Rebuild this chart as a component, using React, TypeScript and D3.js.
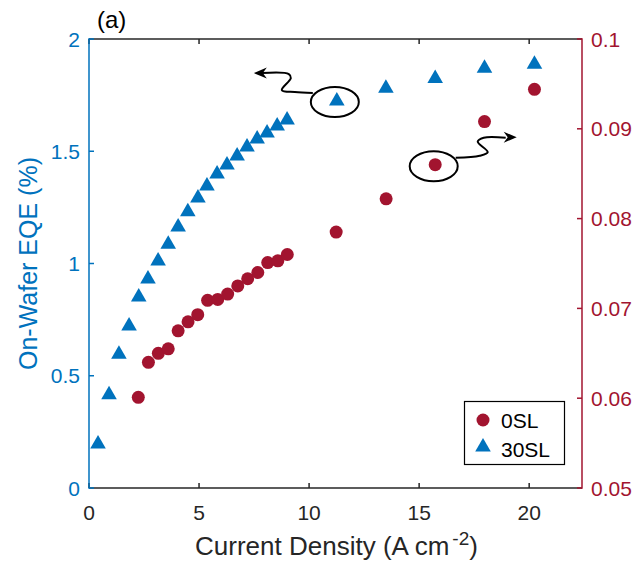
import React, { useEffect, useRef } from 'react';
import * as d3 from 'd3';

// 30SL: on-wafer EQE (%) on left axis
const sl30Current = [0.41, 0.91, 1.36, 1.82, 2.26, 2.68, 3.14, 3.6, 4.05, 4.49, 4.95, 5.36, 5.82, 6.27, 6.73, 7.18, 7.64, 8.09, 8.55, 9.0, 11.26, 13.49, 15.73, 17.97, 20.24];
const sl30EQE = [0.20, 0.42, 0.60, 0.726, 0.855, 0.935, 1.016, 1.09, 1.167, 1.235, 1.296, 1.35, 1.403, 1.443, 1.483, 1.523, 1.559, 1.586, 1.617, 1.644, 1.728, 1.785, 1.829, 1.874, 1.892];

// 0SL: on-wafer EQE (%) on right axis
const sl0Current = [2.24, 2.7, 3.15, 3.6, 4.05, 4.5, 4.94, 5.39, 5.85, 6.3, 6.76, 7.21, 7.67, 8.12, 8.58, 9.01, 11.23, 13.5, 15.73, 17.97, 20.24];
const sl0EQE = [0.0601, 0.0640, 0.0650, 0.0655, 0.0675, 0.0685, 0.0693, 0.0709, 0.0710, 0.0716, 0.0725, 0.0733, 0.0740, 0.0751, 0.0753, 0.0760, 0.0785, 0.0822, 0.0860, 0.0908, 0.0944];

const xTicks = [0, 5, 10, 15, 20];
const leftTicks = [0, 0.5, 1, 1.5, 2];
const rightTicks = [0.05, 0.06, 0.07, 0.08, 0.09, 0.1];

const BLUE = '#0072BD';
const RED = '#A2142F';
const DARK = '#262626';
const FONT = '"Liberation Sans", Arial, sans-serif';

export default function App() {
  const ref = useRef<SVGSVGElement>(null);

  useEffect(() => {
    const svg = d3.select(ref.current);
    svg.selectAll('*').remove();

    const margin = { top: 39, left: 89, right: 60, bottom: 81 };
    const W = 642, H = 569;
    const x = d3.scaleLinear().domain([0, 22.4]).range([margin.left, W - margin.right]);
    const yL = d3.scaleLinear().domain([0, 2]).range([H - margin.bottom, margin.top]);
    const yR = d3.scaleLinear().domain([0.05, 0.1]).range([H - margin.bottom, margin.top]);
    const x0 = x(0), x1 = x(22.4), yb = yL(0), yt = yL(2);
    const tl = 5;

    const g = svg.append('g');

    // top & bottom axes
    g.append('line').attr('x1', x0).attr('x2', x1).attr('y1', yt).attr('y2', yt)
      .attr('stroke', DARK).attr('stroke-width', 1.5);
    g.append('line').attr('x1', x0).attr('x2', x1).attr('y1', yb).attr('y2', yb)
      .attr('stroke', DARK).attr('stroke-width', 1.5);
    xTicks.forEach(t => {
      g.append('line').attr('x1', x(t)).attr('x2', x(t)).attr('y1', yb).attr('y2', yb - tl)
        .attr('stroke', DARK).attr('stroke-width', 1.5);
      g.append('line').attr('x1', x(t)).attr('x2', x(t)).attr('y1', yt).attr('y2', yt + tl)
        .attr('stroke', DARK).attr('stroke-width', 1.5);
      g.append('text').attr('x', x(t)).attr('y', yb + 32).attr('text-anchor', 'middle')
        .attr('font-size', 21).attr('fill', DARK).attr('font-family', FONT).text(String(t));
    });

    // left axis
    g.append('line').attr('x1', x0).attr('x2', x0).attr('y1', yb + 0.75).attr('y2', yt - 0.75)
      .attr('stroke', BLUE).attr('stroke-width', 1.5);
    leftTicks.forEach(t => {
      g.append('line').attr('x1', x0).attr('x2', x0 + tl).attr('y1', yL(t)).attr('y2', yL(t))
        .attr('stroke', BLUE).attr('stroke-width', 1.5);
      g.append('text').attr('x', x0 - 9).attr('y', yL(t) + 7.5).attr('text-anchor', 'end')
        .attr('font-size', 21).attr('fill', BLUE).attr('font-family', FONT).text(String(t));
    });

    // right axis
    g.append('line').attr('x1', x1).attr('x2', x1).attr('y1', yb + 0.75).attr('y2', yt - 0.75)
      .attr('stroke', RED).attr('stroke-width', 1.5);
    rightTicks.forEach(t => {
      g.append('line').attr('x1', x1).attr('x2', x1 - tl).attr('y1', yR(t)).attr('y2', yR(t))
        .attr('stroke', RED).attr('stroke-width', 1.5);
      g.append('text').attr('x', x1 + 9).attr('y', yR(t) + 7.5).attr('text-anchor', 'start')
        .attr('font-size', 21).attr('fill', RED).attr('font-family', FONT).text(String(+t.toFixed(2)));
    });

    // axis labels
    const xl = g.append('text').attr('x', (x0 + x1) / 2 + 1).attr('y', 555).attr('text-anchor', 'middle')
      .attr('font-size', 26).attr('fill', DARK).attr('font-family', FONT);
    xl.append('tspan').text('Current Density (A cm');
    xl.append('tspan').attr('dx', 3).attr('dy', -10).attr('font-size', 19).text('-2');
    xl.append('tspan').attr('dy', 10).text(')');

    g.append('text').attr('transform', `translate(37,${(yt + yb) / 2}) rotate(-90)`)
      .attr('text-anchor', 'middle').attr('font-size', 25).attr('fill', BLUE)
      .attr('font-family', FONT).text('On-Wafer EQE (%)');

    g.append('text').attr('x', 97).attr('y', 28).attr('font-size', 24).attr('fill', '#000')
      .attr('font-family', FONT).text('(a)');
    // next panel's label, cut by the bottom edge as in the source figure
    g.append('text').attr('x', 97).attr('y', 588).attr('font-size', 24).attr('fill', '#000')
      .attr('font-family', FONT).text('(b)');

    // markers
    const tri = d3.symbol().type(d3.symbolTriangle).size(105);
    g.append('g').selectAll('path').data(sl30Current).enter().append('path')
      .attr('d', tri as any)
      .attr('transform', (d, i) => `translate(${x(d)},${yL(sl30EQE[i]) + 1})`)
      .attr('fill', BLUE);
    g.append('g').selectAll('circle').data(sl0Current).enter().append('circle')
      .attr('cx', d => x(d)).attr('cy', (d, i) => yR(sl0EQE[i])).attr('r', 6.5)
      .attr('fill', RED);

    // annotations: ellipse around a point, squiggle arrow pointing to its axis
    const squiggle = d3.line().curve(d3.curveCatmullRom.alpha(0.5));
    const annotate = (cx: number, cy: number, pts: [number, number][], tip: [number, number]) => {
      g.append('ellipse').attr('cx', cx).attr('cy', cy).attr('rx', 24).attr('ry', 15)
        .attr('fill', 'none').attr('stroke', '#000').attr('stroke-width', 2);
      const p = pts.map(([dx, dy]) => [cx + dx, cy + dy] as [number, number]);
      g.append('path').attr('d', squiggle(p)).attr('fill', 'none').attr('stroke', '#000').attr('stroke-width', 2);
      const last = p[p.length - 1];
      const tx = cx + tip[0], ty = cy + tip[1];
      const dir = Math.sign(tx - last[0]);
      g.append('path')
        .attr('d', `M${tx},${ty} L${tx - dir * 13},${ty - 5.5} L${tx - dir * 9},${ty} L${tx - dir * 13},${ty + 5.5} Z`)
        .attr('fill', '#000');
    };
    const li = 20;
    annotate(x(sl30Current[li]) - 2, yL(sl30EQE[li]) + 2,
      [[-22, -9], [-40, -10], [-53, -12], [-44, -24], [-46, -28], [-73, -29]], [-81, -29]);
    const ri = 18;
    annotate(x(sl0Current[ri]) - 1.5, yR(sl0EQE[ri]) + 1.5,
      [[22, -8.5], [46, -10.5], [54, -14], [44, -24.5], [50, -28.5], [72, -28.5]], [83, -29]);

    // legend
    const lg = g.append('g');
    lg.append('rect').attr('x', 464.5).attr('y', 401.5).attr('width', 100).attr('height', 63)
      .attr('fill', '#fff').attr('stroke', '#000').attr('stroke-width', 1.2);
    lg.append('circle').attr('cx', 483).attr('cy', 420).attr('r', 6.5).attr('fill', RED);
    lg.append('path').attr('d', tri as any).attr('transform', 'translate(483,447)').attr('fill', BLUE);
    lg.append('text').attr('x', 501).attr('y', 428).attr('font-size', 21).attr('font-family', FONT)
      .attr('fill', '#000').text('0SL');
    lg.append('text').attr('x', 501).attr('y', 457).attr('font-size', 21).attr('font-family', FONT)
      .attr('fill', '#000').text('30SL');
  }, []);

  return (
    <svg ref={ref} width={642} height={569}
      style={{ position: 'absolute', left: 0, top: 0, background: '#fff' }} />
  );
}
